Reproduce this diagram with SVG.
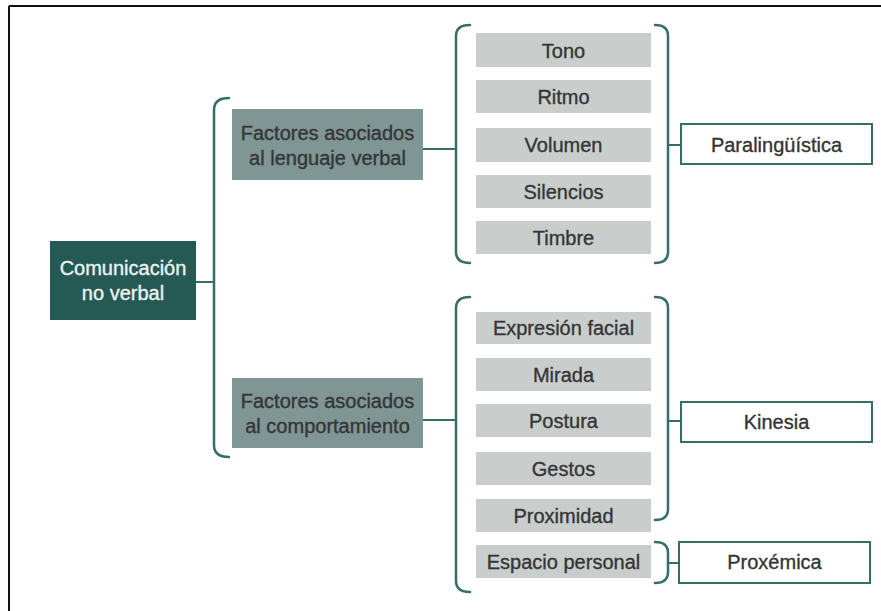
<svg xmlns="http://www.w3.org/2000/svg" width="881" height="611" viewBox="0 0 881 611">
<style>
  .t { font-family: "Liberation Sans", Arial, sans-serif; font-size: 20px; text-anchor: middle; fill: #353535; stroke: #353535; stroke-width: 0.35; }
  .tw { fill: #eef3f2; stroke: #eef3f2; }
  .main { fill: #255954; }
  .mid { fill: #7f9695; }
  .item { fill: #c9cecd; }
  .out { fill: #ffffff; stroke: #356e69; stroke-width: 2; }
  .br { fill: none; stroke: #356e69; stroke-width: 2.5; stroke-linecap: round; }
  .ln { fill: none; stroke: #356e69; stroke-width: 2; }
</style>
<rect x="0" y="0" width="881" height="611" fill="#ffffff"/>
<g id="frame">
  <line x1="9" y1="6" x2="881" y2="6" stroke="#111" stroke-width="2"/>
  <line x1="9" y1="6" x2="9" y2="611" stroke="#111" stroke-width="2"/>
</g>
<g id="connectors">
  <line class="ln" x1="196" y1="282" x2="214" y2="282"/>
  <path class="br" d="M229 98 Q214 98 214 110 V445 Q214 457 229 457"/>
  <line class="ln" x1="423" y1="149" x2="456" y2="149"/>
  <line class="ln" x1="423" y1="420" x2="456" y2="420"/>
  <path class="br" d="M470 25 Q456 25 456 36 V252 Q456 263 470 263"/>
  <path class="br" d="M655 25 Q668 25 668 36 V252 Q668 263 655 263"/>
  <line class="ln" x1="668" y1="145" x2="681" y2="145"/>
  <path class="br" d="M470 297 Q456 297 456 308 V581 Q456 592 470 592"/>
  <path class="br" d="M655 297 Q668 297 668 308 V509 Q668 520 655 520"/>
  <line class="ln" x1="668" y1="421" x2="681" y2="421"/>
  <path class="br" d="M655 542 Q668 542 668 553 V572 Q668 583 655 583"/>
  <line class="ln" x1="668" y1="563" x2="679" y2="563"/>
</g>
<g id="n-comunicacion">
  <rect class="main" x="50" y="241" width="146" height="79"/>
  <text class="t tw" x="123" y="275">Comunicación</text>
  <text class="t tw" x="123" y="300">no verbal</text>
</g>
<g id="n-factores-verbal">
  <rect class="mid" x="232" y="109" width="191" height="71"/>
  <text class="t" x="327.5" y="140">Factores asociados</text>
  <text class="t" x="327.5" y="165">al lenguaje verbal</text>
</g>
<g id="n-factores-comportamiento">
  <rect class="mid" x="232" y="378" width="191" height="70"/>
  <text class="t" x="327.5" y="408">Factores asociados</text>
  <text class="t" x="327.5" y="433">al comportamiento</text>
</g>
<g id="n-tono"><rect class="item" x="476" y="33" width="175" height="34"/><text class="t" x="563.5" y="58">Tono</text></g>
<g id="n-ritmo"><rect class="item" x="476" y="80" width="175" height="33"/><text class="t" x="563.5" y="104">Ritmo</text></g>
<g id="n-volumen"><rect class="item" x="476" y="128" width="175" height="34"/><text class="t" x="563.5" y="152">Volumen</text></g>
<g id="n-silencios"><rect class="item" x="476" y="175" width="175" height="33"/><text class="t" x="563.5" y="199">Silencios</text></g>
<g id="n-timbre"><rect class="item" x="476" y="221" width="175" height="33"/><text class="t" x="563.5" y="245">Timbre</text></g>
<g id="n-expresion"><rect class="item" x="476" y="312" width="175" height="32"/><text class="t" x="563.5" y="335">Expresión facial</text></g>
<g id="n-mirada"><rect class="item" x="476" y="358" width="175" height="33"/><text class="t" x="563.5" y="382">Mirada</text></g>
<g id="n-postura"><rect class="item" x="476" y="404" width="175" height="33"/><text class="t" x="563.5" y="428">Postura</text></g>
<g id="n-gestos"><rect class="item" x="476" y="452" width="175" height="33"/><text class="t" x="563.5" y="476">Gestos</text></g>
<g id="n-proximidad"><rect class="item" x="476" y="499" width="175" height="33"/><text class="t" x="563.5" y="523">Proximidad</text></g>
<g id="n-espacio"><rect class="item" x="476" y="545" width="175" height="33"/><text class="t" x="563.5" y="569">Espacio personal</text></g>
<g id="n-paralinguistica"><rect class="out" x="681" y="124" width="191" height="40"/><text class="t" x="776.5" y="152">Paralingüística</text></g>
<g id="n-kinesia"><rect class="out" x="681" y="402" width="191" height="40"/><text class="t" x="776.5" y="429">Kinesia</text></g>
<g id="n-proxemica"><rect class="out" x="679" y="542" width="191" height="41"/><text class="t" x="774.5" y="569">Proxémica</text></g>
</svg>
